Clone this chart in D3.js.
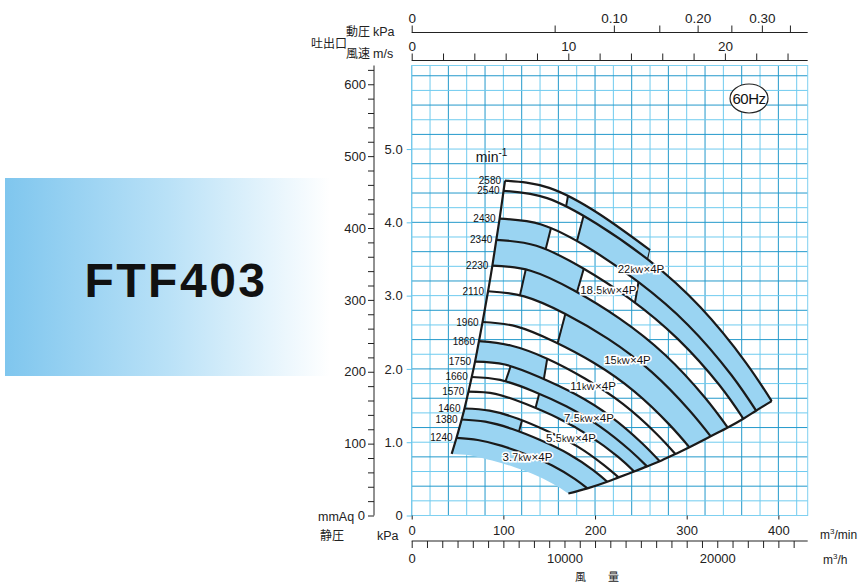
<!DOCTYPE html>
<html><head><meta charset="utf-8">
<script src="https://cdn.jsdelivr.net/npm/d3@7"></script>
<style>
body{margin:0;background:#fff;}
svg{display:block;font-family:"Liberation Sans",Arial,sans-serif;}
</style></head><body>
<svg id="c" width="860" height="583"></svg>
<script>
// ---------------- data ----------------
const rpmLabels = [2580,2540,2430,2340,2230,2110,1960,1860,1750,1660,1570,1460,1380,1240];
// curves: [flow m3/min, static pressure kPa]
const c2580 = [[101.8,4.57],[150,4.47],[205,4.11],[260,3.62]];
const c2540 = [[100.2,4.43],[147.7,4.33],[201.8,3.98],[257.9,3.49],[315.0,2.84],[364.3,2.09],[392.7,1.56]];
const c2430 = [[95.9,4.05],[141.3,3.97],[193.1,3.65],[246.8,3.19],[301.4,2.60],[348.5,1.92],[375.7,1.43]];
const c2340 = [[92.3,3.76],[136.0,3.68],[185.9,3.38],[237.6,2.96],[290.2,2.41],[335.6,1.78],[361.8,1.32]];
const c2230 = [[88.0,3.41],[129.7,3.34],[177.2,3.07],[226.5,2.69],[276.6,2.19],[319.8,1.61],[344.8,1.20]];
const c2110 = [[83.3,3.06],[122.7,2.99],[167.7,2.75],[214.3,2.41],[261.7,1.96],[302.6,1.44],[326.2,1.08]];
const c1960 = [[77.3,2.64],[114.0,2.58],[155.7,2.37],[199.0,2.08],[243.1,1.69],[281.1,1.24],[303.0,0.93]];
const c1860 = [[73.4,2.38],[108.1,2.32],[147.8,2.14],[188.9,1.87],[230.7,1.52],[266.7,1.12],[287.6,0.84]];
const c1750 = [[69.1,2.10],[101.7,2.06],[139.0,1.89],[177.7,1.66],[217.1,1.35],[251.0,0.99],[270.6,0.74]];
const c1660 = [[65.5,1.89],[96.5,1.85],[131.9,1.70],[168.6,1.49],[205.9,1.21],[238.1,0.89],[256.7,0.67]];
const c1570 = [[61.9,1.69],[91.3,1.66],[124.7,1.52],[159.4,1.33],[194.7,1.08],[225.2,0.80],[242.7,0.60]];
const c1460 = [[57.6,1.46],[84.9,1.43],[116.0,1.32],[148.3,1.15],[181.1,0.94],[209.4,0.69],[225.7,0.52]];
const c1380 = [[54.5,1.31],[80.2,1.28],[109.7,1.18],[140.1,1.03],[171.2,0.84],[197.9,0.62],[213.4,0.46]];
const c1240 = [[48.9,1.06],[72.1,1.03],[98.5,0.95],[125.9,0.83],[153.8,0.68],[177.8,0.50],[191.7,0.37]];
const lowEdge = [[43.6,0.84],[64.3,0.82],[87.8,0.75],[112.2,0.66],[137.1,0.54],[158.5,0.40],[170.9,0.30]];

// motor power-limit dividers: [id, band index, point on upper curve, point on lower curve]
const dividers = [
  ["A1",0,[170.5,4.36],[168.3,4.21]],
  ["A2",0,[259.9,3.61],[257.7,3.50]],
  ["B1",1,[187.1,4.07],[180.6,3.76]],
  ["C1",2,[150.9,3.87],[146.5,3.65]],
  ["C2",2,[246.8,3.14],[243.5,2.90]],
  ["D1",3,[188.0,3.38],[180.6,3.06]],
  ["E1",4,[123.6,3.31],[118.2,3.01]],
  ["F1",5,[167.2,2.73],[159.6,2.37]],
  ["H1",7,[147.6,2.12],[144.4,1.88]],
  ["I1",8,[107.2,2.01],[101.8,1.81]],
  ["J1",9,[137.8,1.60],[134.5,1.44]],
  ["L1",11,[120.4,1.30],[117.1,1.15]]
];
// shaded segments: [band, left divider (null = start), right divider (null = end)]
const blueSegments = [
  [0,"A1","A2"],[1,"B1",null],[2,null,"C1"],[2,"C2",null],[3,null,"D1"],
  [4,"E1",null],[5,"F1",null],[7,null,"H1"],[8,"I1",null],
  [9,"J1",null],[11,null,"L1"],[12,null,null],[13,null,null]
];
const motorKW = ["22","18.5","15","11","7.5","5.5","3.7"];
const motorLabelAt = [[250.1,3.36],[214.5,3.08],[235.4,2.12],[197.8,1.77],[193.4,1.33],[173.8,1.06],[126.3,0.80]];

const flowTicks = [0,100,200,300,400];
const kpaTicks = [0,1,2,3,4,5];
const mmTicks = [0,100,200,300,400,500,600];
const velTicks = [0,10,20];
const dynTicks = [0,0.10,0.20,0.30];
const hourTicks = [0,10000,20000];

// ---------------- chart ----------------
const svg = d3.select("#c");
const X0=411.7, X1=807.7, Y0=515.5, Y1=65.5;
const qMax = 432, pMax = 6.14;
const x = d3.scaleLinear().domain([0,qMax]).range([X0,X1]);
const y = d3.scaleLinear().domain([0,pMax]).range([Y0,Y1]);
const yMm = d3.scaleLinear().domain([0,pMax*101.97]).range([Y0,Y1]);
const vMax = (X1-X0)/15.66;
const xV = d3.scaleLinear().domain([0,vMax]).range([X0,X1]);
const xPd = d3.scaleSqrt().domain([0,0.0006*vMax*vMax]).range([X0,X1]);
const xH = d3.scaleLinear().domain([0,qMax*60]).range([X0,X1]);

const defs = svg.append("defs");
const grad = defs.append("linearGradient").attr("id","tg").attr("x1","0").attr("x2","1").attr("y1","0").attr("y2","0");
grad.append("stop").attr("offset","0").attr("stop-color","#7fc6ee");
grad.append("stop").attr("offset","0.5").attr("stop-color","#b9e1f7");
grad.append("stop").attr("offset","1").attr("stop-color","#ffffff");

// title box
svg.append("rect").attr("x",5).attr("y",178).attr("width",325).attr("height",198).attr("fill","url(#tg)");
svg.append("text").attr("x",176).attr("y",297).attr("text-anchor","middle")
  .attr("font-size",48).attr("font-weight","bold").attr("letter-spacing",2.5).attr("fill","#111").text("FTF403");

// grid
const grid = svg.append("g");
const gq = d3.range(0,421,20), gp = d3.range(0,31).map(i=>+(i*0.2).toFixed(1));
grid.selectAll(".gv").data(gq).join("line")
  .attr("x1",d=>x(d)).attr("x2",d=>x(d)).attr("y1",y(pMax)).attr("y2",y(0))
  .attr("stroke",(d,i)=>i%2?"#6fcbef":"#2399cb").attr("stroke-width",1);
grid.selectAll(".gh").data(gp).join("line")
  .attr("x1",x(0)).attr("x2",x(qMax)).attr("y1",d=>y(d)).attr("y2",d=>y(d))
  .attr("stroke",(d,i)=>i%2?"#6fcbef":"#2399cb").attr("stroke-width",1);
grid.append("rect").attr("x",x(0)).attr("y",y(pMax)).attr("width",x(qMax)-x(0)).attr("height",y(0)-y(pMax))
  .attr("fill","none").attr("stroke","#7fd0f0").attr("stroke-width",1);

// curves
const curves = [c2580,c2540,c2430,c2340,c2230,c2110,c1960,c1860,c1750,c1660,c1570,c1460,c1380,c1240,lowEdge];
const line = d3.line().x(d=>x(d[0])).y(d=>y(d[1])).curve(d3.curveNatural);
function bandPath(up, lo){
  const a = line(up), b = line(lo.slice().reverse());
  return a + "L" + b.slice(1) + "Z";
}
const bands = d3.range(14).map(i=>{
  const up = curves[i];
  let lo = curves[i+1];
  if (i===0) lo = lo.filter(p=>p[0] <= up[up.length-1][0]+3);
  return bandPath(up, lo);
});
bands.forEach((d,i)=>defs.append("clipPath").attr("id","band"+i).append("path").attr("d",d));

const divMap = {};
dividers.forEach(d=>{
  const p1=[x(d[2][0]),y(d[2][1])], p2=[x(d[3][0]),y(d[3][1])];
  const dx=p2[0]-p1[0], dy=p2[1]-p1[1];
  divMap[d[0]] = {band:d[1], top:[p1[0]-dx*2,p1[1]-dy*2], bot:[p2[0]+dx*2,p2[1]+dy*2]};
});
const fillG = svg.append("g");
blueSegments.forEach(s=>{
  const L = s[1]?divMap[s[1]]:null, R = s[2]?divMap[s[2]]:null;
  const lt = L?L.top:[300,0], lb = L?L.bot:[300,583];
  const rt = R?R.top:[850,0], rb = R?R.bot:[850,583];
  const pts = [L?lt:[300,Math.min(rt[1],0)], R?rt:[850,Math.min(lt[1],0)], R?rb:[850,583], L?lb:[300,583]];
  fillG.append("path").attr("clip-path","url(#band"+s[0]+")")
    .attr("d","M"+pts.map(p=>p.join(",")).join("L")+"Z").attr("fill","#9ad4f2");
});
const divG = svg.append("g");
dividers.forEach(d=>{
  const m = divMap[d[0]];
  divG.append("line").attr("clip-path","url(#band"+d[1]+")")
    .attr("x1",m.top[0]).attr("y1",m.top[1]).attr("x2",m.bot[0]).attr("y2",m.bot[1])
    .attr("stroke","#1a1a1a").attr("stroke-width",2);
});
const curveG = svg.append("g").attr("fill","none").attr("stroke","#1a1a1a").attr("stroke-width",2.2);
curves.slice(0,14).forEach(c=>curveG.append("path").attr("d",line(c)));
// left (surge) and right boundaries
curveG.append("path").attr("d",line(curves.map(c=>c[0])));
curveG.append("path").attr("d",line(curves.slice(1).map(c=>c[c.length-1])));

// rpm labels
svg.append("g").selectAll("text").data(rpmLabels).join("text")
  .attr("x",(d,i)=>x(curves[i][0][0])-4).attr("y",(d,i)=>y(curves[i][0][1])+3.5)
  .attr("text-anchor","end").attr("font-size",10).attr("fill","#111").text(d=>d);
const mt = svg.append("text").attr("x",x(70)).attr("y",y(4.82)).attr("font-size",14).attr("fill","#111");
mt.append("tspan").text("min");
mt.append("tspan").attr("font-size",10).attr("dy",-6).text("-1");

// motor labels
const ml = svg.append("g").selectAll("text").data(motorKW).join("text")
  .attr("x",(d,i)=>x(motorLabelAt[i][0])).attr("y",(d,i)=>y(motorLabelAt[i][1])+4)
  .attr("text-anchor","middle").attr("font-size",11.5).attr("fill","#111")
  .attr("stroke","#fff").attr("stroke-width",3).attr("paint-order","stroke");
ml.append("tspan").text(d=>d);
ml.append("tspan").attr("font-size",9).text("kW");
ml.append("tspan").text("×4P");

// 60Hz badge
svg.append("ellipse").attr("cx",x(368)).attr("cy",y(5.69)).attr("rx",19).attr("ry",14.5)
  .attr("fill","#fff").attr("stroke","#222").attr("stroke-width",1.2);
svg.append("text").attr("x",x(368)).attr("y",y(5.69)+5.5).attr("text-anchor","middle")
  .attr("font-size",15).attr("fill","#111").attr("letter-spacing",-0.5).text("60Hz");

// left axes
const mmAx = svg.append("g").attr("transform","translate(374,0)")
  .call(d3.axisLeft(yMm).tickValues(d3.range(0,621,20)).tickSize(6).tickFormat(d=>mmTicks.includes(d)?d:""));
mmAx.select(".domain").attr("d",`M0,${Y1}V${Y0}`).attr("stroke","#222");
mmAx.selectAll("line").attr("stroke","#222");
mmAx.selectAll("text").attr("font-size",13).attr("fill","#222").attr("x",-8).attr("font-family","Liberation Sans");
mmAx.selectAll(".tick").filter(d=>d===0).select("text").attr("x",-9);

const kAx = svg.append("g").attr("transform",`translate(${X0},0)`)
  .call(d3.axisLeft(y).tickValues(kpaTicks).tickSize(5).tickPadding(4).tickFormat(d=>d===0?"0":d.toFixed(1)));
kAx.select(".domain").remove();
kAx.selectAll("line").attr("stroke","#5fc4ee");
kAx.selectAll("text").attr("font-size",13).attr("fill","#222").attr("font-family","Liberation Sans");

svg.append("text").attr("x",318).attr("y",520.5).attr("font-size",12.5).attr("fill","#222").text("mmAq");
svg.append("text").attr("x",320).attr("y",540).attr("font-size",12).attr("fill","#222").attr("font-family","Noto Sans CJK JP").text("静圧");
svg.append("text").attr("x",377).attr("y",540).attr("font-size",12.5).attr("fill","#222").text("kPa");

// bottom axes
const bAx = svg.append("g").attr("transform",`translate(0,${Y0})`)
  .call(d3.axisBottom(x).tickValues(flowTicks).tickSize(4).tickPadding(6));
bAx.select(".domain").remove();
bAx.selectAll("line").attr("stroke","#222");
bAx.selectAll("text").attr("font-size",13).attr("fill","#222").attr("font-family","Liberation Sans");
const hAx = svg.append("g").attr("transform","translate(0,541)")
  .call(d3.axisBottom(xH).tickValues(d3.range(0,25001,1000)).tickSize(7).tickPadding(6).tickFormat(d=>hourTicks.includes(d)?d:""));
hAx.select(".domain").attr("d",`M${X0},0H${X1}`).attr("stroke","#222");
hAx.selectAll("line").attr("stroke","#222");
hAx.selectAll("text").attr("font-size",13).attr("fill","#222").attr("font-family","Liberation Sans");
svg.append("text").attr("x",820).attr("y",539).attr("font-size",12).attr("fill","#222").html("m<tspan font-size='8' dy='-5'>3</tspan><tspan dy='5'>/min</tspan>");
svg.append("text").attr("x",823).attr("y",564).attr("font-size",12).attr("fill","#222").html("m<tspan font-size='8' dy='-5'>3</tspan><tspan dy='5'>/h</tspan>");
svg.append("text").attr("x",575).attr("y",581).attr("font-size",11).attr("fill","#222").attr("font-family","Noto Sans CJK JP").text("風　　量");

// top axes
const pdAx = svg.append("g").attr("transform","translate(0,32.5)")
  .call(d3.axisTop(xPd).tickValues(d3.range(0,8).map(i=>+(i*0.05).toFixed(2))).tickSize(7).tickPadding(3)
  .tickFormat(d=>dynTicks.includes(d)?(d===0?"0":d.toFixed(2)):""));
pdAx.select(".domain").attr("d",`M${X0},0H${X1}`).attr("stroke","#222");
pdAx.selectAll("line").attr("stroke","#222");
pdAx.selectAll("text").attr("font-size",13.5).attr("fill","#222").attr("font-family","Liberation Sans");
const vAx = svg.append("g").attr("transform","translate(0,60.5)")
  .call(d3.axisTop(xV).tickValues(d3.range(0,25,2)).tickSize(7).tickPadding(3)
  .tickFormat(d=>velTicks.includes(d)?d:""));
vAx.select(".domain").attr("d",`M${X0},0H${X1}`).attr("stroke","#222");
vAx.selectAll("line").attr("stroke","#222");
vAx.selectAll("text").attr("font-size",13.5).attr("fill","#222").attr("font-family","Liberation Sans");

const cjk = "Noto Sans CJK JP";
svg.append("text").attr("x",346).attr("y",36).attr("font-size",12).attr("font-family",cjk).attr("fill","#222").text("動圧");
svg.append("text").attr("x",373).attr("y",36).attr("font-size",12.5).attr("fill","#222").text("kPa");
svg.append("text").attr("x",311).attr("y",48).attr("font-size",12).attr("font-family",cjk).attr("fill","#222").text("吐出口");
svg.append("text").attr("x",346).attr("y",58).attr("font-size",12).attr("font-family",cjk).attr("fill","#222").text("風速");
svg.append("text").attr("x",373).attr("y",58).attr("font-size",12.5).attr("fill","#222").text("m/s");
</script>
</body></html>
